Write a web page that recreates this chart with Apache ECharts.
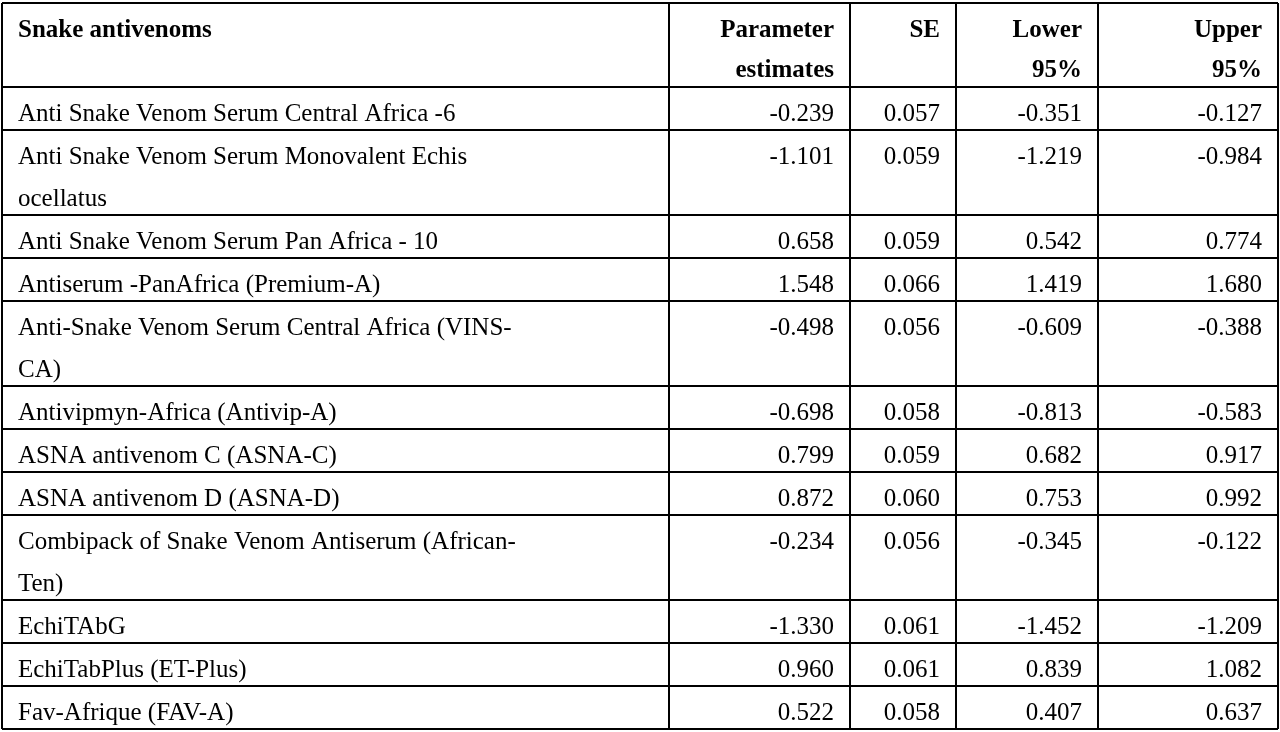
<!DOCTYPE html>
<html><head><meta charset="utf-8">
<script src="https://cdn.jsdelivr.net/npm/echarts@6/dist/echarts.min.js"></script>
<style>html,body{margin:0;padding:0;background:#fff}#c{width:1280px;height:732px}</style>
</head><body><div id="c"></div>
<script>
const headers = ["Snake antivenoms", "Parameter\nestimates", "SE", "Lower\n95%", "Upper\n95%"];
const names = [
 "Anti Snake Venom Serum Central Africa -6",
 "Anti Snake Venom Serum Monovalent Echis\nocellatus",
 "Anti Snake Venom Serum Pan Africa - 10",
 "Antiserum -PanAfrica (Premium-A)",
 "Anti-Snake Venom Serum Central Africa (VINS-\nCA)",
 "Antivipmyn-Africa (Antivip-A)",
 "ASNA antivenom C (ASNA-C)",
 "ASNA antivenom D (ASNA-D)",
 "Combipack of Snake Venom Antiserum (African-\nTen)",
 "EchiTAbG",
 "EchiTabPlus (ET-Plus)",
 "Fav-Afrique (FAV-A)"
];
const estimates = ["-0.239","-1.101","0.658","1.548","-0.498","-0.698","0.799","0.872","-0.234","-1.330","0.960","0.522"];
const se = ["0.057","0.059","0.059","0.066","0.056","0.058","0.059","0.060","0.056","0.061","0.061","0.058"];
const lower = ["-0.351","-1.219","0.542","1.419","-0.609","-0.813","0.682","0.753","-0.345","-1.452","0.839","0.407"];
const upper = ["-0.127","-0.984","0.774","1.680","-0.388","-0.583","0.917","0.992","-0.122","-1.209","1.082","0.637"];

(function(){
const colX = [2, 669, 850, 956, 1098, 1278];
const tableTop = 3, headerH = 84, lineH = 43;
const font = '"Liberation Serif","Times New Roman",serif';
const fs = 25;

const g = [];
function cellText(text, c, y, bold) {
  const right = c > 0;
  g.push({type:'text', style:{x: right ? colX[c+1]-16 : colX[c]+16, y: y, text: text,
    font:(bold?'bold ':'')+fs+'px '+font, fill:'#000', lineHeight: bold?40:42,
    align: right?'right':'left', verticalAlign:'top'}});
}
for (let c=0;c<5;c++) cellText(headers[c], c, tableTop+8, true);
let y = tableTop + headerH;
const hLines = [tableTop, y];
names.forEach((n,i)=>{
  const lines = n.split('\n').length;
  cellText(n, 0, y+6, false);
  [estimates, se, lower, upper].forEach((arr,k)=>cellText(arr[i], k+1, y+6, false));
  y += lineH*lines - (lines>1?1:0);
  hLines.push(y);
});
hLines.forEach(hy=>g.push({type:'line', shape:{x1:colX[0],y1:hy,x2:colX[5],y2:hy}, style:{stroke:'#000',lineWidth:2}}));
colX.forEach(cx=>g.push({type:'line', shape:{x1:cx,y1:tableTop,x2:cx,y2:y}, style:{stroke:'#000',lineWidth:2}}));

const chart = echarts.init(document.getElementById('c'));
chart.setOption({animation:false, graphic:{elements:g}});
})();
</script></body></html>
